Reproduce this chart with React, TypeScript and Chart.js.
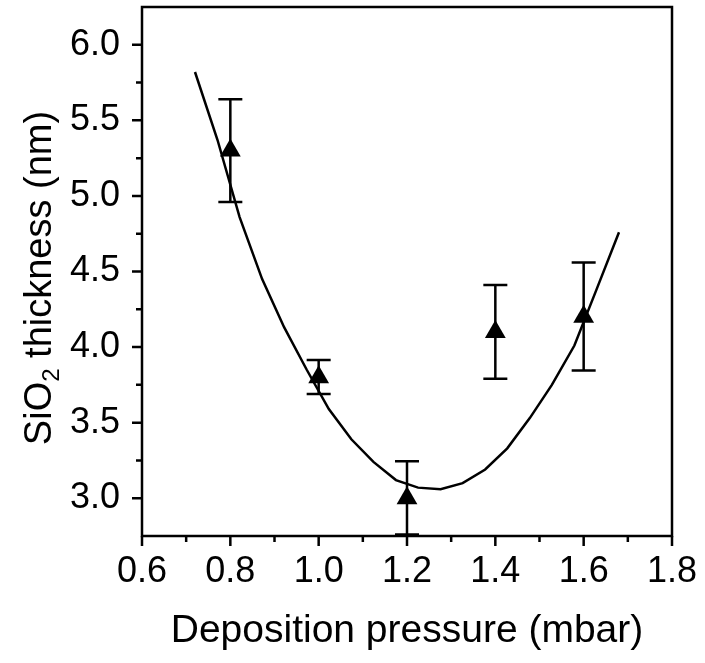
import React, { useEffect, useRef } from "react";
import { Chart, registerables } from "chart.js";

Chart.register(...registerables);

// Measured points
const pressure = [0.8, 1.0, 1.2, 1.4, 1.6];
const thickness = [5.3, 3.8, 3.0, 4.1, 4.2];
const errLow = [4.96, 3.69, 2.76, 3.79, 3.845];
const errHigh = [5.64, 3.915, 3.245, 4.41, 4.56];

// Fitted curve
const fitX = [0.72, 0.771, 0.821, 0.872, 0.922, 0.973, 1.023, 1.074, 1.124, 1.175, 1.225, 1.276, 1.326, 1.377, 1.427, 1.478, 1.528, 1.579, 1.629, 1.68];
const fitY = [5.82, 5.37, 4.86, 4.45, 4.13, 3.85, 3.59, 3.39, 3.24, 3.12, 3.07, 3.06, 3.1, 3.19, 3.33, 3.53, 3.75, 4.01, 4.38, 4.76];

// Axis ticks
const xMajor = [0.6, 0.8, 1.0, 1.2, 1.4, 1.6, 1.8];
const xMinor = [0.7, 0.9, 1.1, 1.3, 1.5, 1.7];
const yMajor = [3.0, 3.5, 4.0, 4.5, 5.0, 5.5, 6.0];
const yMinor = [3.25, 3.75, 4.25, 4.75, 5.25, 5.75];

const xTitle = "Deposition pressure (mbar)";
const yTitleMain = "SiO";
const yTitleSub = "2";
const yTitleRest = " thickness (nm)";

const FONT = "'Liberation Sans', Arial, sans-serif";
const LW = 2.5;

const framePlugin = {
  id: "frame",
  afterDatasetsDraw(chart: any) {
    const { ctx, scales } = chart;
    const xs = scales.x;
    const ys = scales.y;
    ctx.save();
    ctx.strokeStyle = "#000";
    ctx.lineWidth = LW;
    ctx.lineCap = "butt";
    for (let i = 0; i < pressure.length; i++) {
      const px = xs.getPixelForValue(pressure[i]);
      const lo = ys.getPixelForValue(errLow[i]);
      const hi = ys.getPixelForValue(errHigh[i]);
      ctx.beginPath();
      ctx.moveTo(px, lo);
      ctx.lineTo(px, hi);
      ctx.moveTo(px - 12, lo);
      ctx.lineTo(px + 12, lo);
      ctx.moveTo(px - 12, hi);
      ctx.lineTo(px + 12, hi);
      ctx.stroke();
    }
    ctx.restore();
  },
  afterDraw(chart: any) {
    const { ctx, chartArea, scales } = chart;
    const xs = scales.x;
    const ys = scales.y;
    const { left, right, top, bottom } = chartArea;
    ctx.save();
    ctx.strokeStyle = "#000";
    ctx.lineWidth = LW;
    ctx.strokeRect(left, top, right - left, bottom - top);
    ctx.beginPath();
    for (const v of xMajor) {
      const p = xs.getPixelForValue(v);
      ctx.moveTo(p, bottom);
      ctx.lineTo(p, bottom + 10);
    }
    for (const v of xMinor) {
      const p = xs.getPixelForValue(v);
      ctx.moveTo(p, bottom);
      ctx.lineTo(p, bottom + 6);
    }
    for (const v of yMajor) {
      const p = ys.getPixelForValue(v);
      ctx.moveTo(left, p);
      ctx.lineTo(left - 10, p);
    }
    for (const v of yMinor) {
      const p = ys.getPixelForValue(v);
      ctx.moveTo(left, p);
      ctx.lineTo(left - 6, p);
    }
    ctx.stroke();

    // y-axis title with subscript
    ctx.fillStyle = "#000";
    ctx.textBaseline = "alphabetic";
    ctx.textAlign = "left";
    const mainFont = `38px ${FONT}`;
    const subFont = `24px ${FONT}`;
    ctx.font = mainFont;
    const w1 = ctx.measureText(yTitleMain).width;
    const w3 = ctx.measureText(yTitleRest).width;
    ctx.font = subFont;
    const w2 = ctx.measureText(yTitleSub).width;
    const total = w1 + w2 + w3;
    ctx.translate(51, 278);
    ctx.rotate(-Math.PI / 2);
    const x0 = -total / 2;
    ctx.font = mainFont;
    ctx.fillText(yTitleMain, x0, 0);
    ctx.font = subFont;
    ctx.fillText(yTitleSub, x0 + w1, 8);
    ctx.font = mainFont;
    ctx.fillText(yTitleRest, x0 + w1 + w2, 0);
    ctx.restore();
  },
};

export default function App() {
  const ref = useRef<HTMLCanvasElement | null>(null);
  useEffect(() => {
    if (!ref.current) return;
    const chart = new Chart(ref.current, {
      type: "scatter",
      data: {
        datasets: [
          {
            type: "line",
            data: fitX.map((x, i) => ({ x, y: fitY[i] })),
            borderColor: "#000",
            borderWidth: LW,
            pointRadius: 0,
            tension: 0,
            fill: false,
          } as any,
          {
            type: "scatter",
            data: pressure.map((x, i) => ({ x, y: thickness[i] })),
            pointStyle: "triangle",
            pointRadius: 12,
            backgroundColor: "#000",
            borderColor: "#000",
            borderWidth: 0,
          },
        ],
      },
      options: {
        animation: false,
        responsive: true,
        maintainAspectRatio: false,
        layout: { autoPadding: false, padding: { left: 0, top: 7, right: 33, bottom: 0 } },
        plugins: { legend: { display: false }, tooltip: { enabled: false } },
        scales: {
          x: {
            type: "linear",
            position: "bottom",
            min: 0.6,
            max: 1.8,
            afterFit: (s: any) => {
              s.height = 127;
              s.paddingLeft = 0;
              s.paddingRight = 0;
            },
            afterBuildTicks: (s: any) => {
              s.ticks = xMajor.map((v) => ({ value: v }));
            },
            ticks: {
              color: "#000",
              font: { family: FONT, size: 36 },
              padding: 14,
              maxRotation: 0,
              autoSkip: false,
              callback: (v: any) => Number(v).toFixed(1),
            },
            grid: { display: false, drawTicks: false },
            border: { display: false },
            title: {
              display: true,
              text: xTitle,
              color: "#000",
              font: { family: FONT, size: 39 },
              padding: { top: 0, bottom: 8 },
            },
          },
          y: {
            type: "linear",
            min: 2.75,
            max: 6.25,
            afterFit: (s: any) => {
              s.width = 142;
              s.paddingTop = 0;
              s.paddingBottom = 0;
            },
            afterBuildTicks: (s: any) => {
              s.ticks = yMajor.map((v) => ({ value: v }));
            },
            ticks: {
              color: "#000",
              font: { family: FONT, size: 36 },
              padding: 22,
              autoSkip: false,
              callback: (v: any) => Number(v).toFixed(1),
            },
            grid: { display: false, drawTicks: false },
            border: { display: false },
          },
        },
      },
      plugins: [framePlugin],
    });
    return () => chart.destroy();
  }, []);
  return (
    <div style={{ position: "fixed", left: 0, top: 0, width: 705, height: 663, background: "#fff" }}>
      <canvas ref={ref} />
    </div>
  );
}
